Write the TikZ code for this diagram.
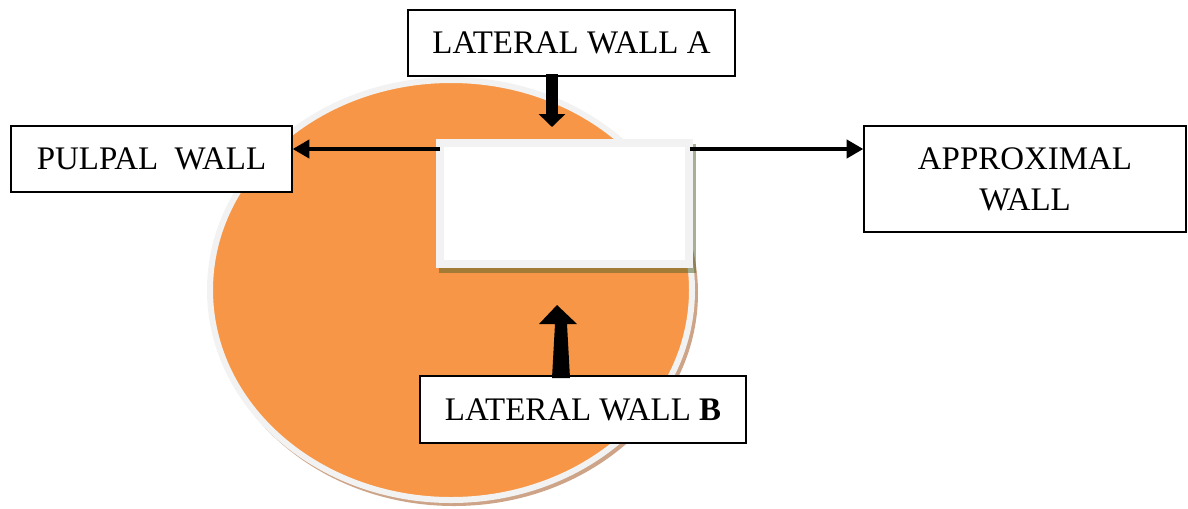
\documentclass[tikz,border=0pt]{standalone}
\usepackage{fontspec}
\setmainfont{Liberation Serif}
\usetikzlibrary{arrows.meta,shapes.geometric}
\definecolor{orng}{HTML}{F79646}
\definecolor{rim}{HTML}{F2F2F2}
\definecolor{tanshadow}{HTML}{CDA487}
\definecolor{oliveshadow}{HTML}{4F6228}
\tikzset{
  x=0.75pt, y=-0.75pt,
  label box/.style={draw=black, line width=1pt, fill=white, inner sep=0pt, align=center,
    font=\fontsize{24.7}{30.75}\selectfont},
  thin arrow/.style={line width=3pt, -{Triangle[width=13.5pt,length=12.5pt]}},
  block arrow/.style={line width=9pt, -{Triangle[width=19.5pt,length=9.75pt]}},
}
\begin{document}
\begin{tikzpicture}
\useasboundingbox (0,0) rectangle (1188,508);
% tooth outline with shadow
\node[fill=tanshadow, draw=tanshadow, line width=4.5pt, ellipse, inner sep=0pt,
  minimum width=361.5pt, minimum height=315pt] (toothshadow) at (454,293) {};
\node[fill=orng, draw=rim, line width=4.5pt, ellipse, inner sep=0pt,
  minimum width=361.5pt, minimum height=315pt] (tooth) at (451,290) {};
% cavity with shadow
\fill[oliveshadow, opacity=0.5] (439,144) rectangle (696,273);
\node[fill=white, draw=rim, line width=6pt, inner sep=0pt,
  minimum width=186.75pt, minimum height=90.75pt] (cavity) at (564.5,203.5) {};
% labels
\node[label box, minimum width=245.25pt, minimum height=49.5pt] (latA) at (571.5,43) {LATERAL WALL A};
\node[label box, minimum width=210.75pt, minimum height=49.5pt] (pulpal) at (151.5,159) {PULPAL\ \ WALL};
\node[label box, minimum width=241.5pt, minimum height=79.5pt] (approx) at (1025,179) {APPROXIMAL\\WALL};
\node[label box, minimum width=244.5pt, minimum height=50.25pt] (latB) at (583,409.5) {LATERAL WALL \textbf{B}};
% connectors
\coordinate (cavL) at (440,149);
\coordinate (cavR) at (690,149);
\draw[thin arrow] (cavL) -- (pulpal.east |- cavL);
\draw[thin arrow] (cavR) -- (approx.west |- cavR);
\coordinate (aStart) at (552,74);
\coordinate (aTip) at (552,127);
\draw[block arrow] (aStart) -- (aTip);
\fill[black] (552,378) -- (570,378) -- (567,324) -- (577,324) -- (557,305) -- (539,324) -- (555,324) -- cycle;
\end{tikzpicture}
\end{document}
